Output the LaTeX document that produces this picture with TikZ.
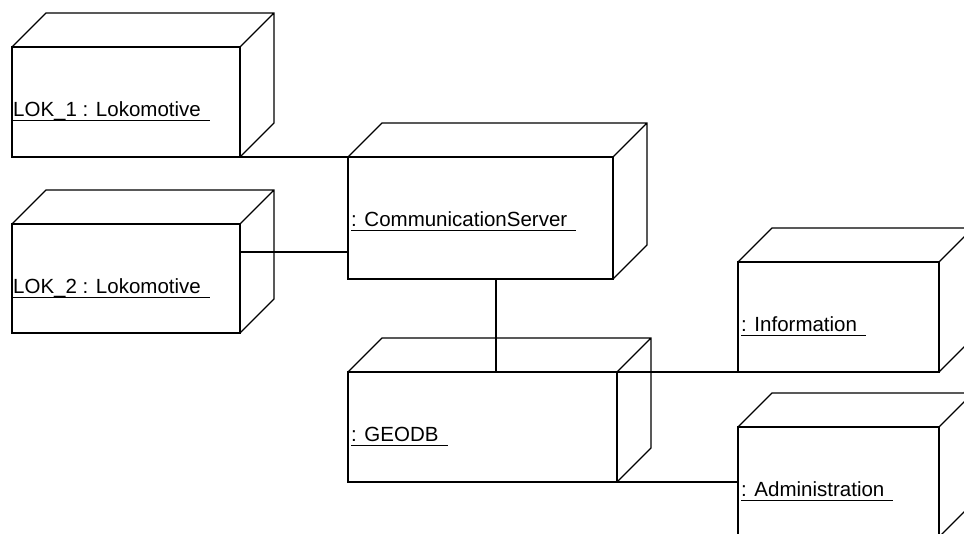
\documentclass[tikz,border=0pt]{standalone}
\usepackage{fontspec}
\setmainfont{Liberation Sans}

\newsavebox\objbox
\newcommand\objname[1]{\sbox\objbox{#1\hspace{9pt}}\rlap{\vrule height -2.6pt depth 3.9pt width \wd\objbox}\usebox\objbox}

\tikzset{
  devbox/.style 2 args={draw, line width=1.5pt, anchor=north west, inner sep=0pt, outer sep=0pt, minimum width=#1, minimum height=#2},
  sideline/.style={line width=1.2pt, line join=miter},
  link/.style={line width=1.1pt},
  objlabel/.style={anchor=base west, inner sep=0pt, font=\fontsize{20.5}{23}\selectfont}
}

\begin{document}
\begin{tikzpicture}[x=1pt, y=1pt]
\useasboundingbox (0,0) rectangle (964,534);
\clip (0,0) rectangle (964,534);
% Knoten
\node[devbox={228pt}{110pt}] (lok1) at (12,487) {};
\node[devbox={228pt}{109pt}] (lok2) at (12,310) {};
\node[devbox={265pt}{122pt}] (cs) at (348,377) {};
\node[devbox={269pt}{110pt}] (geodb) at (348,162) {};
\node[devbox={201pt}{110pt}] (info) at (738,272) {};
\node[devbox={201pt}{110pt}] (admin) at (738,107) {};
% Tiefe
\foreach \n in {lok1,lok2,cs,geodb,info,admin}
  \draw[sideline] (\n.north west) -- ++(34,34) -| ([shift={(34,34)}]\n.south east) -- (\n.south east)
    (\n.north east) -- ++(34,34);
% Beschriftung
\node[objlabel] (lok1-txt) at ([shift={(1,-70)}]lok1.north west) {\objname{LOK\_1 : Lokomotive}};
\node[objlabel] (lok2-txt) at ([shift={(1,-70)}]lok2.north west) {\objname{LOK\_2 : Lokomotive}};
\node[objlabel] (cs-txt) at ([shift={(3,-70)}]cs.north west) {\objname{: CommunicationServer}};
\node[objlabel] (geodb-txt) at ([shift={(3,-70)}]geodb.north west) {\objname{: GEODB}};
\node[objlabel] (info-txt) at ([shift={(3,-70)}]info.north west) {\objname{: Information}};
\node[objlabel] (admin-txt) at ([shift={(3,-70)}]admin.north west) {\objname{: Administration}};
% Verbindungen
\coordinate (l2) at ([yshift=-28pt]lok2.north east);
\coordinate (csg) at ([xshift=148pt]cs.south west);
\draw[link] (lok1.south east) -- (cs.north west);
\draw[link] (l2) -- (l2 -| cs.west);
\draw[link] (csg) -- (csg |- geodb.north);
\draw[link] (geodb.north east) -- (info.south west);
\draw[link] (geodb.south east) -- (admin.west);
\end{tikzpicture}
\end{document}
